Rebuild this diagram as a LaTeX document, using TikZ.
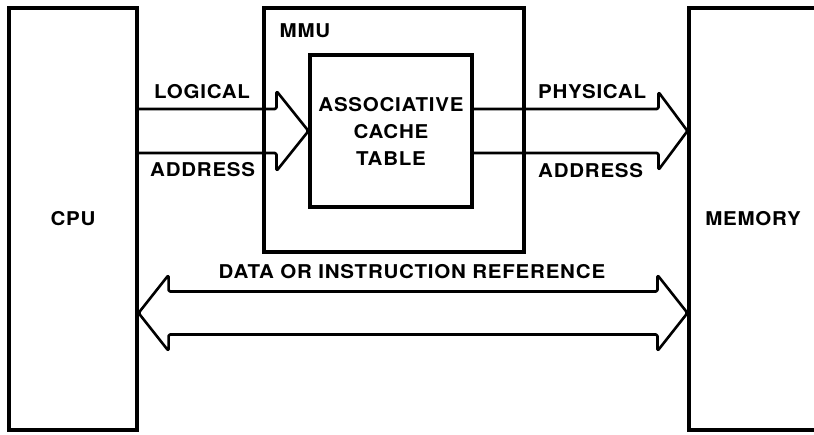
\documentclass[tikz,border=0pt]{standalone}
\usepackage{fontspec}
\setmainfont{TeX Gyre Heros}[FakeStretch=1.08,LetterSpace=4]
\usetikzlibrary{calc}

\begin{document}
\begin{tikzpicture}[x=1pt,y=-1pt,
    unit/.style ={draw, line width=3.1pt, minimum width=128pt, minimum height=422pt},
    frame/.style ={draw, line width=3.1pt},
    fat/.style ={line width=2.6pt, rounded corners=1.5pt, line join=round},
    lbl/.style ={font=\bfseries\fontsize{19}{27}\selectfont, inner sep=0pt}]
  \useasboundingbox (0,0) rectangle (814,435);
  \clip (0,0) rectangle (814,435);

  % the three units
  \node[unit, lbl] (cpu) at (73,219) {CPU};
  \node[unit, lbl] (memory) at (753,219) {MEMORY};
  \node[frame, minimum width=260pt, minimum height=244pt] (mmu) at (394,130) {};
  \node[lbl, anchor=west] (mmulabel) at ($(mmu.north west)+(17,24)$) {MMU};
  \node[frame, lbl, align=center, minimum width=162pt, minimum height=152pt] (act) at (391,131)
    {ASSOCIATIVE\\CACHE\\TABLE};

  % logical address into the table
  \coordinate (cpuport) at (cpu.east |- act.west);
  \draw[fat] ($(cpuport)+(0,-22)$) -- ($(act.west)+(-32,-22)$) -- ($(act.west)+(-32,-40)$)
    -- (act.west) -- ($(act.west)+(-32,40)$) -- ($(act.west)+(-32,22)$) -- ($(cpuport)+(0,22)$);
  \node[lbl, anchor=west] (logical) at (154,92) {LOGICAL};
  \node[lbl, anchor=west] (laddress) at (150,170) {ADDRESS};

  % physical address out to memory
  \coordinate (memport) at (memory.west |- act.east);
  \draw[fat] ($(act.east)+(0,-22)$) -- ($(memport)+(-29,-22)$) -- ($(memport)+(-29,-39)$)
    -- (memport) -- ($(memport)+(-29,39)$) -- ($(memport)+(-29,22)$) -- ($(act.east)+(0,22)$);
  \node[lbl, anchor=west] (physical) at (538,92) {PHYSICAL};
  \node[lbl, anchor=west] (paddress) at (538,171) {ADDRESS};

  % two-way bus
  \coordinate (busl) at (cpu.east |- 0,313);
  \coordinate (busr) at (memory.west |- 0,313);
  \draw[fat] (busl) -- ($(busl)+(30,-38)$) -- ($(busl)+(30,-21.5)$) -- ($(busr)+(-30,-21.5)$)
    -- ($(busr)+(-30,-38)$) -- (busr) -- ($(busr)+(-30,38)$) -- ($(busr)+(-30,21.5)$)
    -- ($(busl)+(30,21.5)$) -- ($(busl)+(30,38)$) -- cycle;
  \node[lbl] (bus) at (412,272) {DATA OR INSTRUCTION REFERENCE};
\end{tikzpicture}
\end{document}
